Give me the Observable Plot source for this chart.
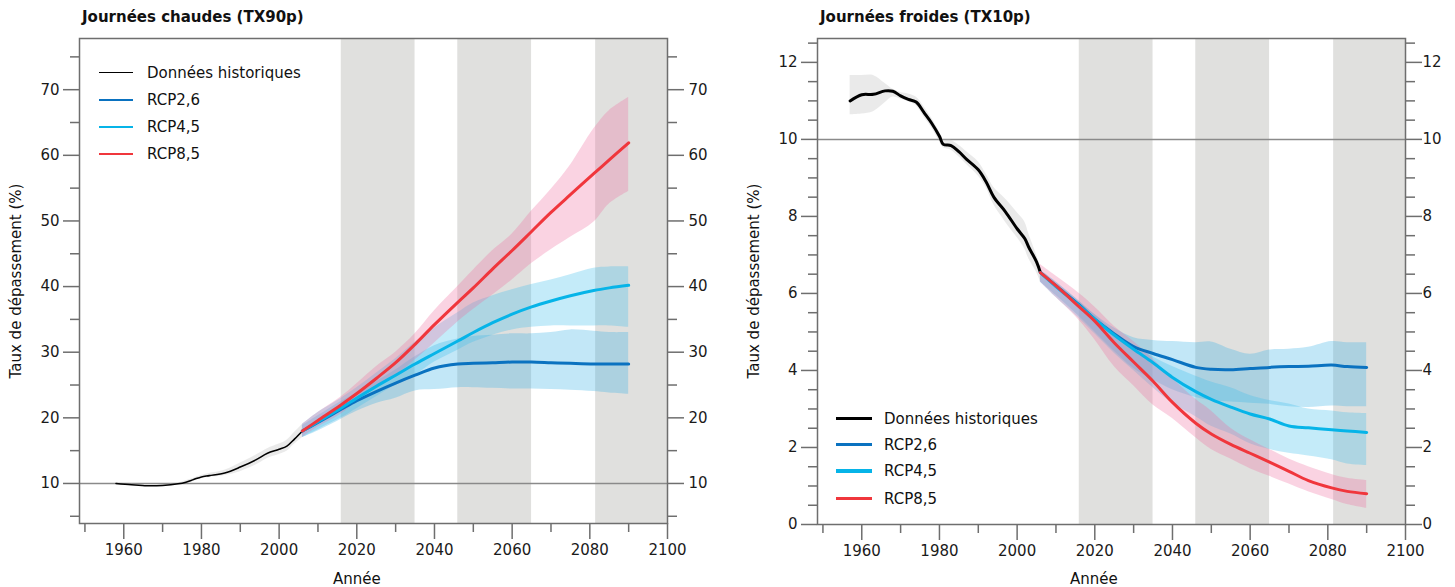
<!DOCTYPE html>
<html><head><meta charset="utf-8">
<script src="https://cdn.jsdelivr.net/npm/d3@7"></script>
<script src="https://cdn.jsdelivr.net/npm/@observablehq/plot@0.6"></script>
<style>
body{margin:0;background:#fff;font-family:"DejaVu Sans",sans-serif;color:#111}
#root{position:relative;width:1455px;height:587px;overflow:hidden}
.abs{position:absolute;white-space:nowrap}
.title{font-weight:bold;font-size:15px}
.lab{font-size:15px}
.ylab{font-size:15px;transform:translate(-50%,-50%) rotate(-90deg)}
</style></head>
<body><div id="root"></div>
<script>
// ---------- shared ----------
const periods = [{s:2016,e:2035},{s:2046,e:2065},{s:2081.5,e:2100}];
const rcpYears = [2006,2010,2016,2020,2025,2030,2035,2040,2046,2050,2055,2060,2065,2070,2075,2081,2085,2090];
const seriesNames = ["Données historiques","RCP2,6","RCP4,5","RCP8,5"];
const seriesColors = ["#000000","#0a72c0","#06b4e8","#f0363c"];
const bandColors = {hist:"#b8b8b8", rcp26:"#34b0e6", rcp45:"#3cbeec", rcp85:"#f06ca0"};
const xTicksMajor = [1960,1980,2000,2020,2040,2060,2080,2100];
const xTicksMinor = [1950,1970,1990,2010,2030,2050,2070,2090];

// ---------- TX90p (hot days) ----------
const histYearsL = [1958,1962,1966,1970,1974,1976,1978,1980,1982,1986,1990,1994,1997,2000,2002,2004,2006];
const histL   = [10.0,9.8,9.65,9.7,9.95,10.2,10.6,11.0,11.2,11.6,12.5,13.6,14.6,15.2,15.7,16.8,18.0];
const histLlo = [9.9,9.7,9.55,9.6,9.85,10.0,10.4,10.8,10.9,11.2,11.8,12.8,13.8,14.4,14.9,16.0,17.0];
const histLhi = [10.1,9.9,9.75,9.8,10.05,10.4,10.8,11.2,11.5,12.0,13.1,14.3,15.3,16.0,16.6,17.8,19.0];
const r85L   = [18.0,19.6,22.0,23.7,26.0,28.4,31.2,34.2,37.6,39.8,42.7,45.5,48.4,51.3,54.0,57.2,59.3,61.9];
const r85Lhi = [19.0,20.8,23.2,25.2,27.8,30.0,32.8,36.3,40.0,42.5,45.5,48.0,51.5,54.8,58.5,64.0,66.8,68.8];
const r85Llo = [17.0,18.6,20.6,22.5,24.6,26.4,28.8,31.4,34.6,36.5,38.7,41.0,43.5,45.6,47.5,49.8,52.6,54.5];
const r45L   = [18.0,19.4,21.5,23.0,24.8,26.5,28.2,29.8,31.7,33.0,34.5,35.8,36.9,37.8,38.6,39.4,39.8,40.2];
const r45Lhi = [19.0,20.8,23.0,24.6,26.8,29.0,31.5,33.7,36.0,37.5,38.6,39.5,40.3,41.0,41.8,42.8,43.0,43.0];
const r45Llo = [17.0,18.2,20.0,21.4,23.2,25.0,26.5,28.5,30.3,31.5,32.6,33.4,33.8,34.0,34.0,34.0,34.0,33.8];
const r26L   = [18.0,19.3,21.3,22.6,24.0,25.3,26.5,27.6,28.2,28.3,28.4,28.5,28.5,28.4,28.3,28.2,28.2,28.2];
const r26Lhi = [18.8,20.3,22.5,23.8,25.5,27.3,29.3,31.0,32.0,32.4,32.6,32.8,32.8,33.0,33.4,33.2,33.0,33.0];
const r26Llo = [17.0,18.0,19.8,21.0,22.2,23.0,24.1,24.3,24.6,24.6,24.5,24.4,24.4,24.3,24.2,24.0,23.8,23.6];
const yTicksMajorL = [10,20,30,40,50,60,70];
const yTicksMinorL = [5,15,25,35,45,55,65,75];

// ---------- TX10p (cold days) ----------
const histYearsR = [1957,1960,1963,1966,1968,1970,1972,1974,1976,1978,1980,1981,1983,1985,1987,1990,1992,1994,1997,2000,2002,2003,2005,2006];
const histR   = [11.0,11.16,11.17,11.26,11.25,11.13,11.04,10.97,10.7,10.42,10.08,9.87,9.84,9.68,9.48,9.21,8.9,8.5,8.12,7.68,7.42,7.2,6.82,6.54];
const histRhi = [11.66,11.66,11.66,11.45,11.3,11.22,11.18,11.1,10.85,10.55,10.2,10.0,9.98,9.85,9.68,9.42,9.1,8.75,8.45,8.1,7.85,7.55,7.0,6.7];
const histRlo = [10.64,10.66,10.72,10.95,11.1,11.05,10.98,10.88,10.58,10.3,9.95,9.78,9.72,9.55,9.35,9.05,8.75,8.3,7.85,7.45,7.15,6.9,6.55,6.3];
const r85R   = [6.54,6.2,5.65,5.28,4.72,4.22,3.72,3.17,2.63,2.35,2.08,1.85,1.62,1.38,1.14,0.95,0.86,0.8];
const r85Rhi = [6.75,6.45,6.0,5.65,5.15,4.75,4.3,3.8,3.25,2.95,2.5,2.2,1.95,1.7,1.5,1.3,1.2,1.14];
const r85Rlo = [6.3,5.9,5.3,4.8,4.1,3.6,3.1,2.75,2.25,1.95,1.7,1.45,1.25,1.05,0.85,0.65,0.52,0.42];
const r45R   = [6.54,6.18,5.68,5.33,4.92,4.55,4.2,3.82,3.45,3.25,3.05,2.87,2.74,2.56,2.51,2.46,2.43,2.39];
const r45Rhi = [6.6,6.3,5.8,5.45,5.0,4.65,4.35,4.1,3.85,3.7,3.55,3.35,3.22,3.13,3.0,2.95,2.9,2.88];
const r45Rlo = [6.3,5.9,5.35,4.95,4.45,4.0,3.55,3.15,2.8,2.55,2.35,2.1,1.95,1.85,1.78,1.68,1.57,1.53];
const r26R   = [6.54,6.2,5.7,5.33,4.95,4.62,4.44,4.28,4.08,4.03,4.02,4.05,4.08,4.10,4.11,4.14,4.10,4.08];
const r26Rhi = [6.6,6.3,5.8,5.45,5.1,4.85,4.78,4.75,4.72,4.74,4.55,4.42,4.53,4.55,4.6,4.75,4.72,4.72];
const r26Rlo = [6.3,5.95,5.4,5.0,4.5,4.05,3.75,3.5,3.3,3.22,3.18,3.15,3.12,3.06,3.04,3.08,3.06,3.06];
const yTicksMajorR = [0,2,4,6,8,10,12];
const yTicksMinorR = [0.5,1,1.5,2.5,3,3.5,4.5,5,5.5,6.5,7,7.5,8.5,9,9.5,10.5,11,11.5,12.5];

function rows(years, v, lo, hi){ return years.map((y,i)=>({year:y, v:v[i], lo:lo[i], hi:hi[i]})); }

function chart(o){
  const hist = rows(o.histYears, o.hist, o.histLo, o.histHi);
  const r26 = rows(rcpYears, o.r26, o.r26lo, o.r26hi);
  const r45 = rows(rcpYears, o.r45, o.r45lo, o.r45hi);
  const r85 = rows(rcpYears, o.r85, o.r85lo, o.r85hi);
  const [y0,y1] = o.yDomain;
  const axStyle = {stroke:"#6e6e6e", strokeWidth:1.5, fill:"#1a1a1a", fontSize:15, label:null};
  const curve = "catmull-rom";
  return Plot.plot({
    width:727, height:587,
    marginLeft:o.ml, marginRight:o.mr, marginTop:38, marginBottom:o.mb,
    style:{fontFamily:"DejaVu Sans", fontSize:"15px", background:"transparent"},
    x:{domain:[1948.6,2100]},
    y:{domain:o.yDomain},
    marks:[
      Plot.rect(periods, {x1:"s", x2:"e", y1:()=>y0, y2:()=>y1, fill:"#e0e0de"}),
      Plot.ruleY([10], {stroke:"#8a8a8a", strokeWidth:1.5}),
      Plot.areaY(hist, {x:"year", y1:"lo", y2:"hi", fill:bandColors.hist, fillOpacity:0.3, curve}),
      Plot.areaY(r26, {x:"year", y1:"lo", y2:"hi", fill:bandColors.rcp26, fillOpacity:0.3, curve}),
      Plot.areaY(r45, {x:"year", y1:"lo", y2:"hi", fill:bandColors.rcp45, fillOpacity:0.3, curve}),
      Plot.areaY(r85, {x:"year", y1:"lo", y2:"hi", fill:bandColors.rcp85, fillOpacity:0.3, curve}),
      Plot.lineY(hist, {x:"year", y:"v", stroke:seriesColors[0], strokeWidth:o.histW, curve}),
      Plot.lineY(r26, {x:"year", y:"v", stroke:seriesColors[1], strokeWidth:3, curve}),
      Plot.lineY(r45, {x:"year", y:"v", stroke:seriesColors[2], strokeWidth:3, curve}),
      Plot.lineY(r85, {x:"year", y:"v", stroke:seriesColors[3], strokeWidth:3, curve}),
      Plot.frame({stroke:"#6e6e6e", strokeWidth:1.5}),
      Plot.axisY(o.yMajor, {...axStyle, anchor:"left", tickSize:16, tickPadding:4}),
      Plot.axisY(o.yMinor, {...axStyle, anchor:"left", tickSize:9, tickFormat:()=>""}),
      Plot.axisY(o.yMajor, {...axStyle, anchor:"right", tickSize:16, tickPadding:o.rPad}),
      Plot.axisY(o.yMinor, {...axStyle, anchor:"right", tickSize:9, tickFormat:()=>""}),
      Plot.axisX(xTicksMajor, {...axStyle, anchor:"bottom", tickSize:16, tickPadding:5, tickFormat:d3.format("d")}),
      Plot.axisX(xTicksMinor, {...axStyle, anchor:"bottom", tickSize:9, tickFormat:()=>""})
    ]
  });
}

const root = document.getElementById("root");
function place(el, left, top){ el.style.position="absolute"; el.style.left=left+"px"; el.style.top=top+"px"; root.appendChild(el); }

const left = chart({histYears:histYearsL, hist:histL, histLo:histLlo, histHi:histLhi,
  r26:r26L, r26lo:r26Llo, r26hi:r26Lhi, r45:r45L, r45lo:r45Llo, r45hi:r45Lhi, r85:r85L, r85lo:r85Llo, r85hi:r85Lhi,
  yDomain:[3.9,77.8], yMajor:yTicksMajorL, yMinor:yTicksMinorL, ml:79, mr:60, mb:64, histW:1.6, rPad:5});
place(left, 0, 0);
const right = chart({histYears:histYearsR, hist:histR, histLo:histRlo, histHi:histRhi,
  r26:r26R, r26lo:r26Rlo, r26hi:r26Rhi, r45:r45R, r45lo:r45Rlo, r45hi:r45Rhi, r85:r85R, r85lo:r85Rlo, r85hi:r85Rhi,
  yDomain:[0,12.62], yMajor:yTicksMajorR, yMinor:yTicksMinorR, ml:89, mr:50, mb:63, histW:3, rPad:1});
place(right, 728, 0);

function txt(cls, s, l, t){ const d=document.createElement("div"); d.className="abs "+cls; d.textContent=s; place(d,l,t); return d; }
txt("title","Journées chaudes (TX90p)",82,8);
txt("title","Journées froides (TX10p)",820,8);
const a1 = txt("lab","Année",0,570); a1.style.left=(357-a1.offsetWidth/2)+"px";
const a2 = txt("lab","Année",0,570); a2.style.left=(1094-a2.offsetWidth/2)+"px";
txt("ylab","Taux de dépassement (%)",16,281);
txt("ylab","Taux de dépassement (%)",754,281);

function legend(lineX0, lineX1, textX, ys, widths){
  seriesNames.forEach((n,i)=>{
    const ln=document.createElement("div");
    ln.style.cssText=`position:absolute;left:${lineX0}px;top:${ys[i]-widths[i]/2}px;width:${lineX1-lineX0}px;height:${widths[i]}px;background:${seriesColors[i]}`;
    root.appendChild(ln);
    const t=txt("lab", n, textX, ys[i]-10); t.style.lineHeight="20px";
  });
}
legend(99, 133, 147, [72.5,100,127,154], [1.6,2.2,2.2,2.2]);
legend(836, 872, 884, [418.5,444.5,471,498.5], [3.5,3.5,3.5,3.5]);
</script></body></html>
